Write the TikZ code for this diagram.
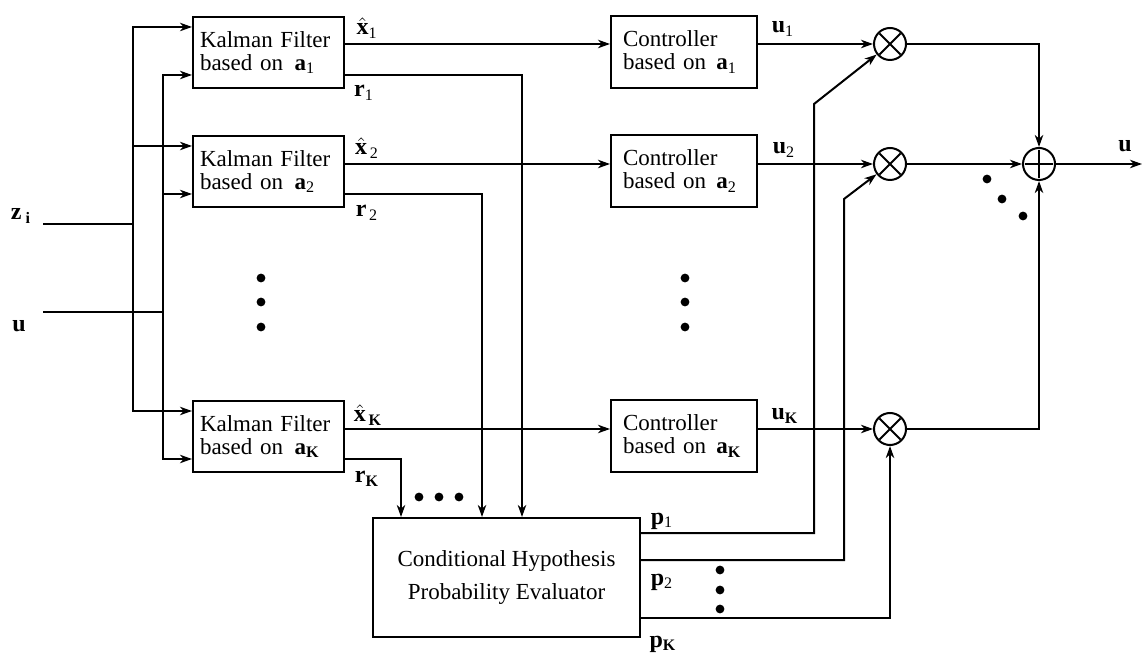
\documentclass[tikz,border=0pt]{standalone}
\usepackage{fontspec}
\setmainfont{Liberation Serif}
\usetikzlibrary{arrows.meta,calc}

\newcommand{\boxfont}{\fontsize{11.5}{11.5}\selectfont}
\newcommand{\hatx}{$\hat{\textbf{x}}$}
\newcommand{\sig}[2]{\textbf{#1}\textsubscript{#2}}

\tikzset{
  kfbox/.style={draw, anchor=north west, minimum width=75.5pt, minimum height=35.5pt, text width=68.5pt, inner xsep=3.5pt, align=left, font=\boxfont},
  ctrlbox/.style={draw, anchor=north west, minimum width=73pt, minimum height=36pt, text width=61pt, inner xsep=6pt, align=left, font=\boxfont},
  evalbox/.style={draw, anchor=north west, minimum width=133.5pt, minimum height=59.5pt, align=center, font=\boxfont},
  mult/.style={draw, circle, minimum size=16pt, inner sep=0pt, path picture={\draw ([shift={(-5.3pt,-5.3pt)}]path picture bounding box.center) -- ++(10.6pt,10.6pt) ([shift={(-5.3pt,5.3pt)}]path picture bounding box.center) -- ++(10.6pt,-10.6pt);}},
  summ/.style={draw, circle, minimum size=16pt, inner sep=0pt, path picture={\draw ([xshift=-7pt]path picture bounding box.center) -- ++(14pt,0) ([yshift=-7pt]path picture bounding box.center) -- ++(0,14pt);}},
  lbl/.style={font=\fontsize{12}{12}\selectfont, inner sep=0pt}
}

\begin{document}
\begin{tikzpicture}[x=0.5pt, y=-0.5pt, line width=1pt, >={Stealth[length=6pt,width=4.2pt,inset=1.8pt]}]
\useasboundingbox (0,0) rectangle (1143,656);

\node[kfbox] (kf1) at (192,16) {Kalman Filter\\based on\hspace{0.5em}\sig{a}{1}};
\node[kfbox] (kf2) at (192,135) {Kalman Filter\\based on\hspace{0.5em}\sig{a}{2}};
\node[kfbox] (kfK) at (192,400) {Kalman Filter\\based on\hspace{0.5em}\sig{a}{\textbf{K}}};
\node[ctrlbox] (ctrl1) at (610,15) {Controller\\based on\hspace{0.45em}\sig{a}{1}};
\node[ctrlbox] (ctrl2) at (610,134) {Controller\\based on\hspace{0.45em}\sig{a}{2}};
\node[ctrlbox] (ctrlK) at (610,399) {Controller\\based on\hspace{0.45em}\sig{a}{\textbf{K}}};
\node[evalbox] (eval) at (372,517) {Conditional Hypothesis\\[5pt]Probability Evaluator};

\node[mult] (m1) at (890,44) {};
\node[mult] (m2) at (890,164) {};
\node[mult] (mK) at (890,429) {};
\node[summ] (sum) at (1039,164) {};

\coordinate (zin) at (43,224);
\coordinate (zbus) at (133,224);
\coordinate (uin) at (43,312);
\coordinate (ubus) at (163,312);
\coordinate (uout) at (1142,164);
\coordinate (r1) at (522,75);
\coordinate (r2) at (482,194);
\coordinate (rK) at (401,459);
\coordinate (p1c) at (814,533);
\coordinate (p1b) at (814,104);
\coordinate (p2c) at (844,560);
\coordinate (p2b) at (844,199);
\coordinate (pKc) at (890,618);

\draw (zin) -- (zbus);
\draw (uin) -- (ubus);
\foreach \k in {1,2,K}{
  \draw[->] (zbus) |- ($(kf\k.north west)+(0,11)$);
  \draw[->] (ubus) |- ($(kf\k.north west)+(0,59)$);
  \draw[->] (kf\k.east |- m\k) -- (ctrl\k.west |- m\k);
  \draw[->] (ctrl\k.east |- m\k) -- (m\k);
  \draw[->] (kf\k.east |- r\k) -| (eval.north -| r\k);
}
\draw[->] (eval.east |- p1c) -- (p1c) -- (p1b) -- (m1);
\draw[->] (eval.east |- p2c) -- (p2c) -- (p2b) -- (m2);
\draw[->] (eval.east |- pKc) -- (pKc) -- (mK);
\draw[->] (m1) -| (sum);
\draw[->] (m2) -- (sum);
\draw[->] (mK) -| (sum);
\draw[->] (sum) -- (uout);

\foreach \y in {278,302,327}{
  \fill (261,\y) circle (2.2pt);
  \fill (685,\y) circle (2.2pt);
}
\foreach \x in {419,439,459} \fill (\x,497) circle (2.2pt);
\foreach \y in {570,590,609} \fill (720,\y) circle (2.2pt);
\fill (987,179) circle (2.2pt) (1002,199) circle (2.2pt) (1023,216) circle (2.2pt);

\node[lbl] (lz) at (21,216) {\textbf{z}\,\textsubscript{\textbf{i}}};
\node[lbl] (lu) at (19,326) {\textbf{u}};
\node[lbl] (lx1) at (367,28) {\hatx\textsubscript{1}};
\node[lbl] (lx2) at (367,148) {\hatx\textsubscript{\,2}};
\node[lbl] (lxK) at (368,415) {\hatx\textsubscript{\,\textbf{K}}};
\node[lbl] (lr1) at (364,93) {\sig{r}{1}};
\node[lbl] (lr2) at (367,213) {\sig{r}{\,2}};
\node[lbl] (lrK) at (367,479) {\sig{r}{\textbf{K}}};
\node[lbl] (lu1) at (783,29) {\sig{u}{1}};
\node[lbl] (lu2) at (784,150) {\sig{u}{2}};
\node[lbl] (luK) at (785,416) {\sig{u}{\textbf{K}}};
\node[lbl] (luout) at (1125,146) {\textbf{u}};
\node[lbl] (lp1) at (662,521) {\sig{p}{1}};
\node[lbl] (lp2) at (662,582) {\sig{p}{2}};
\node[lbl] (lpK) at (663,644) {\sig{p}{\textbf{K}}};
\end{tikzpicture}
\end{document}
